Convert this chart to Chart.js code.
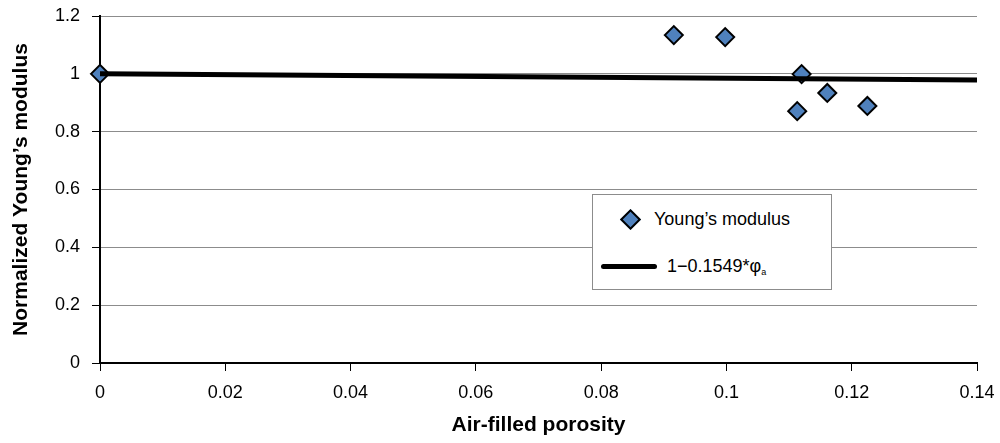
<!DOCTYPE html>
<html>
<head>
<meta charset="utf-8">
<script src="https://cdn.jsdelivr.net/npm/chart.js@4/dist/chart.umd.min.js"></script>
<style>
  html, body { margin: 0; padding: 0; background: #fff; }
  #wrap { position: relative; width: 1000px; height: 443px; }
  #legenda {
    position: absolute; left: 592px; top: 194px; width: 238px; height: 94px;
    background: #fff; border: 1px solid #8c8c8c;
    font-family: 'Liberation Sans', Arial, sans-serif; font-size: 18px; color: #000;
  }
  .voce { position: absolute; white-space: nowrap; line-height: 20px; }
  .rombo {
    position: absolute; width: 11px; height: 11px; background: #4f81bd;
    border: 2px solid #000; transform: rotate(45deg);
  }
  .linea { position: absolute; height: 5px; background: #000; border-radius: 3px; }
</style>
</head>
<body>
<div id="wrap">
  <canvas id="grafico" width="1000" height="443"></canvas>
  <div id="legenda">
    <div class="rombo" style="left:30px; top:17px;"></div>
    <div class="voce" style="left:61px; top:14px;">Young’s modulus</div>
    <div class="linea" style="left:8px; top:69px; width:56px;"></div>
    <div class="voce" style="left:74px; top:61px;">1−0.1549*φ<sub style="font-size:9px; vertical-align:-3px;">a</sub></div>
  </div>
</div>
<script>
// porosità e modulo normalizzato misurati
var porosita = [0, 0.0916, 0.0998, 0.1120, 0.1161, 0.1113, 0.1225];
var moduloNorm = [1.0, 1.134, 1.127, 0.999, 0.934, 0.871, 0.889];

// retta di regressione 1 - 0.1549*phi (estremi)
var fitX = [0, 0.14];
var fitY = [1, 0.9783];

var font = "'Liberation Sans', Arial, sans-serif";

function punti(xs, ys) {
    var out = [];
    for (var i = 0; i < xs.length; i++) {
        out.push({ x: xs[i], y: ys[i] });
    }
    return out;
}

var ctx = document.getElementById('grafico').getContext('2d');

var grafico = new Chart(ctx, {
    type: 'scatter',
    data: {
        datasets: [{
            label: '1−0.1549*φa',
            type: 'line',
            data: punti(fitX, fitY),
            borderColor: '#000',
            borderWidth: 5,
            pointRadius: 0,
            tension: 0,
            fill: false,
            order: 0
        }, {
            label: 'Young’s modulus',
            data: punti(porosita, moduloNorm),
            pointStyle: 'rectRot',
            pointRadius: 9,
            pointBackgroundColor: '#4f81bd',
            pointBorderColor: '#000',
            pointBorderWidth: 2,
            clip: false,
            order: 1
        }]
    },
    options: {
        responsive: false,
        animation: false,
        layout: { padding: { left: 0, top: 16, right: 23, bottom: 0 } },
        plugins: {
            legend: { display: false },
            tooltip: { enabled: false }
        },
        scales: {
            x: {
                type: 'linear',
                min: 0,
                max: 0.14,
                afterFit: function(scale) {
                    scale.height = 80;
                    scale.paddingLeft = 0;
                    scale.paddingRight = 0;
                },
                border: { color: '#000', width: 2 },
                grid: { drawOnChartArea: false, tickLength: 8, tickColor: '#000', tickWidth: 1 },
                ticks: {
                    stepSize: 0.02,
                    padding: 11,
                    color: '#000',
                    font: { family: font, size: 18 },
                    callback: function(v) { return String(Math.round(v * 100) / 100); }
                },
                title: {
                    display: true,
                    text: 'Air-filled porosity',
                    color: '#000',
                    font: { family: font, size: 21, weight: 'bold' },
                    padding: { top: 0, bottom: 5 }
                }
            },
            y: {
                type: 'linear',
                min: 0,
                max: 1.2,
                afterFit: function(scale) {
                    scale.width = 100;
                    scale.paddingTop = 0;
                    scale.paddingBottom = 0;
                },
                border: { color: '#000', width: 2 },
                grid: { color: '#8c8c8c', lineWidth: 1, tickLength: 8, tickColor: '#000' },
                ticks: {
                    stepSize: 0.2,
                    padding: 12,
                    color: '#000',
                    font: { family: font, size: 18 },
                    callback: function(v) { return String(Math.round(v * 10) / 10); }
                },
                title: {
                    display: true,
                    text: 'Normalized Young’s modulus',
                    color: '#000',
                    font: { family: font, size: 21, weight: 'bold' },
                    padding: { top: 9, bottom: 0 }
                }
            }
        }
    }
});
</script>
</body>
</html>
